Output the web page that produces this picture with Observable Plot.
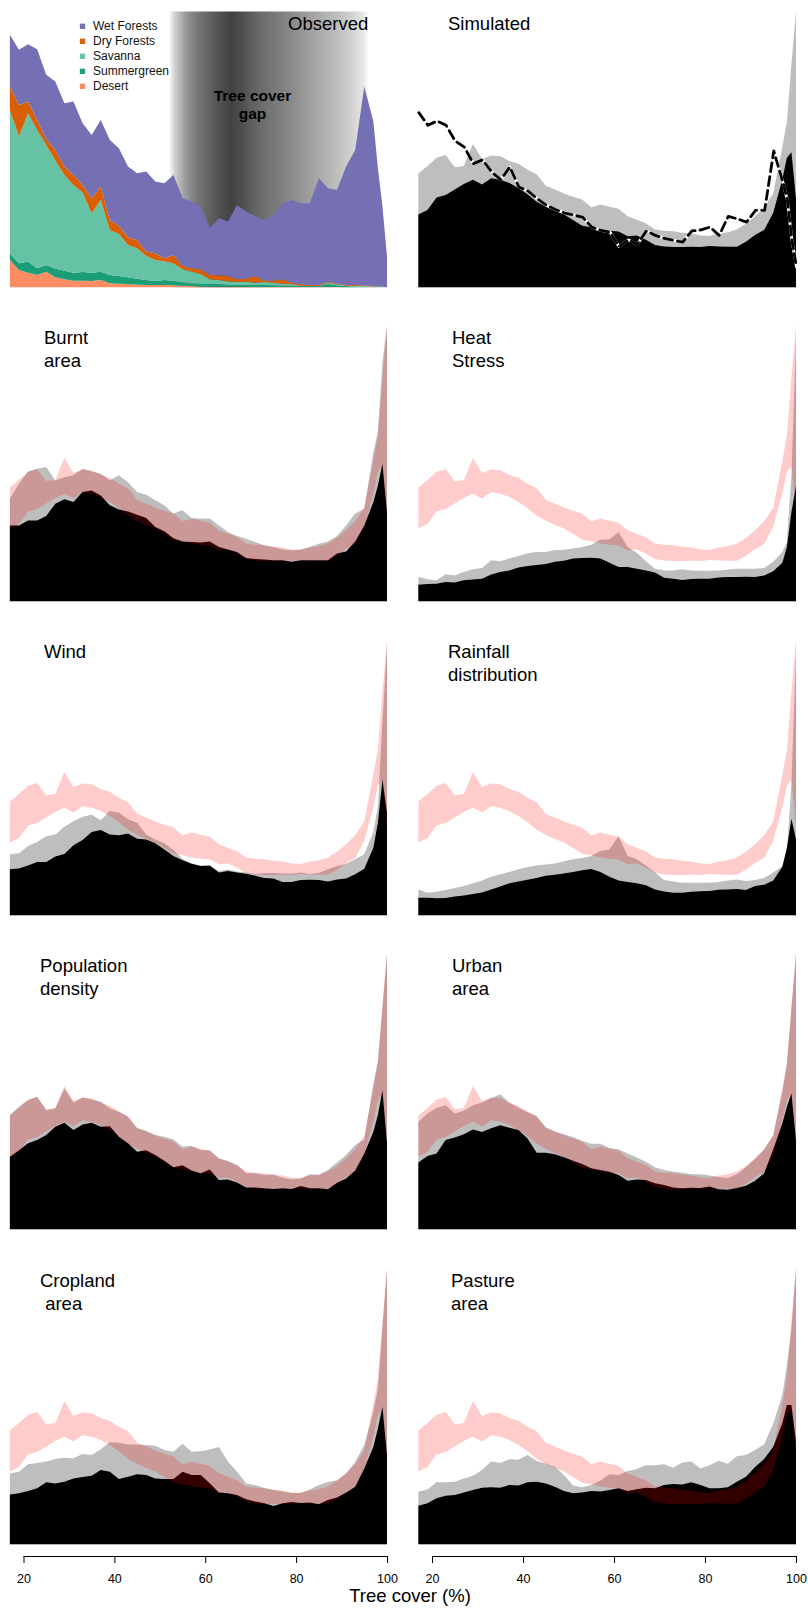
<!DOCTYPE html>
<html>
<head>
<meta charset="utf-8">
<script src="https://cdn.jsdelivr.net/npm/d3@7"></script>
<script src="https://cdn.jsdelivr.net/npm/@observablehq/plot@0.6"></script>
<style>
  body { margin: 0; background: #fff; }
  #fig { position: relative; width: 808px; height: 1608px; background: #fff;
         font-family: "Liberation Sans", Arial, Helvetica, sans-serif; }
  #fig svg { position: absolute; }
  #xlabel { position: absolute; left: 10px; width: 800px; text-align: center;
            font-size: 18.5px; line-height: 18.5px; top: 1587px; color: #000; }
</style>
</head>
<body>
<div id="fig"><div id="xlabel">Tree cover (%)</div></div>
<script>
// ---------------------------------------------------------------------------
// Tree-cover bins (%) shared by every panel
// ---------------------------------------------------------------------------
const treeCover = [
  17, 19, 21, 23, 25, 27, 29, 31, 33, 35, 37,
  39, 41, 43, 45, 47, 49, 51, 53, 55, 57, 59,
  61, 63, 65, 67, 69, 71, 73, 75, 77, 79, 81,
  83, 85, 87, 89, 91, 93, 95, 97, 98, 99, 100
];
const tickValues = [20, 40, 60, 80, 100];

// Observed frequency by biome (stacked)
const desert = [
  8.2, 5.2, 4.4, 3.7, 4.7, 3.0, 2.4, 2.0, 2.0, 1.9, 2.2,
  1.2, 1.1, 1.0, 0.8, 0.7, 0.7, 0.7, 0.6, 0.5, 0.4, 0.2,
  0.2, 0.2, 0.2, 0.2, 0.2, 0.1, 0.1, 0.1, 0.1, 0.1, 0.1,
  0.1, 0.1, 0.1, 0.1, 0, 0, 0, 0, 0, 0, 0
];
const summergreen = [
  2.0, 2.0, 3.3, 2.0, 2.0, 2.6, 2.6, 2.4, 2.6, 2.5, 2.5,
  2.5, 2.3, 2.0, 1.8, 1.5, 1.2, 1.5, 1.4, 1.0, 0.8, 0.8,
  0.8, 0.7, 0.5, 0.5, 0.5, 0.6, 0.6, 0.5, 0.4, 0.4, 0.3,
  0.3, 0.3, 0.9, 0.5, 0.4, 0.2, 0.1, 0.1, 0.1, 0, 0
];
const savanna = [
  43.0, 38.0, 44.5, 41.5, 36.0, 32.4, 28.7, 26.3, 23.8, 17.8, 21.5,
  13.5, 12.6, 9.7, 9.1, 7.2, 6.3, 5.5, 5.2, 3.9, 3.5, 3.0,
  1.4, 1.3, 1.1, 0.9, 1.0, 0.7, 0.9, 0.8, 0.6, 0.5, 0.1,
  0, 0.1, 0.4, 0.3, 0.1, 0.2, 0.2, 0.1, 0, 0.1, 0
];
const dryForests = [
  7.0, 9.5, 3.5, 3.0, 1.7, 3.2, 2.5, 3.0, 2.3, 4.5, 4.0,
  3.0, 2.4, 2.3, 2.5, 1.3, 2.0, 1.0, 2.5, 1.0, 1.0, 1.4,
  1.3, 1.4, 1.6, 0.8, 0.9, 2.0, 0.4, 0.6, 1.3, 0.4, 0.4,
  0.3, 0.2, 0.3, 0.2, 0.2, 0.3, 0.2, 0.2, 0.1, 0.1, 0
];
const wetForests = [
  15.5, 16.5, 17.2, 21.2, 19.3, 20.5, 19.0, 22.0, 18.5, 19.0, 20.0,
  24.0, 23.3, 21.2, 20.0, 24.0, 21.5, 22.5, 24.0, 20.3, 20.0, 18.8,
  14.0, 17.1, 16.3, 22.3, 20.1, 18.0, 18.2, 19.7, 22.8, 24.8, 24.3,
  24.5, 32.0, 28.0, 28.1, 35.5, 40.5, 59.7, 49.3, 35.5, 24.0, 9.2
];
const observedMax = 82.7;
const biomes = ["Wet Forests", "Dry Forests", "Savanna", "Summergreen", "Desert"];
const biomeColors = ["#7570b3", "#d95f02", "#66c2a5", "#1b9e77", "#fc8d62"];
const gapRange = [52, 96];

// Control simulation envelope (min / max) and observed distribution line
const controlMin = [
  26.4, 28.0, 32.6, 33.5, 35.5, 37.5, 39.0, 37.3, 39.5, 39.0, 37.8,
  36.0, 33.7, 31.0, 29.2, 27.7, 26.4, 24.4, 22.3, 21.8, 21.0, 20.5,
  20.2, 18.5, 18.8, 17.2, 15.3, 14.8, 14.6, 14.6, 14.7, 14.6, 15.0,
  14.8, 14.7, 14.7, 16.5, 19.0, 20.8, 27.0, 39.2, 47.0, 49.0, 32.0
];
const controlMax = [
  41.3, 44.0, 47.0, 48.0, 43.5, 44.0, 52.0, 46.5, 47.8, 47.5, 45.8,
  44.8, 42.6, 41.0, 36.8, 35.5, 34.0, 32.8, 31.8, 29.0, 30.0, 29.2,
  28.5, 25.8, 24.5, 23.2, 21.0, 20.5, 20.3, 19.8, 19.5, 18.8, 18.6,
  19.5, 20.0, 21.0, 23.0, 25.8, 29.0, 34.0, 51.0, 60.0, 81.0, 100
];
const observedLine = [
  63.5, 58.9, 60.5, 58.9, 53.2, 51.0, 45.0, 46.4, 42.0, 39.2, 43.8,
  36.5, 35.1, 32.3, 30.0, 28.4, 27.1, 26.4, 25.6, 22.0, 20.8, 20.2,
  15.0, 17.4, 15.7, 20.6, 19.0, 17.9, 17.2, 16.6, 20.6, 21.0, 22.0,
  19.0, 25.9, 25.0, 23.8, 28.1, 28.1, 49.6, 38.3, 31.7, 17.2, 7.5
];

// Experiments with one driver held fixed: upper (grey) and lower (black) envelopes
const burntHigh = [
  37.2, 42.6, 47.1, 48.1, 48.7, 43.8, 45.0, 45.7, 48.1, 47.1, 46.3,
  43.8, 45.7, 43.2, 39.6, 38.6, 36.6, 34.8, 31.8, 33.0, 30.2, 30.0,
  30.0, 27.5, 25.1, 23.7, 22.7, 21.5, 20.3, 19.7, 18.8, 18.5, 18.8,
  19.7, 20.9, 21.7, 23.7, 27.5, 31.8, 33.6, 54.1, 61.4, 86.7, 100
];
const burntLow = [
  27.5, 27.5, 29.3, 29.3, 30.9, 35.4, 37.0, 36.0, 39.6, 40.2, 38.4,
  34.8, 33.3, 32.6, 31.4, 30.2, 26.9, 25.4, 22.9, 21.7, 21.5, 21.3,
  21.7, 19.7, 18.8, 17.9, 15.7, 15.3, 15.2, 14.9, 14.9, 14.3, 14.9,
  14.9, 14.9, 14.9, 17.3, 18.1, 21.7, 27.5, 36.0, 42.0, 49.9, 32.4
];
const heatHigh = [
  8.8, 8.0, 7.6, 9.8, 9.4, 10.6, 11.6, 12.1, 14.9, 14.5, 15.5,
  16.4, 17.4, 17.9, 17.9, 18.6, 18.7, 19.1, 19.7, 20.5, 22.3, 22.5,
  25.0, 19.7, 17.6, 14.5, 11.8, 11.2, 11.2, 11.6, 11.2, 11.1, 11.1,
  11.2, 11.5, 11.8, 11.8, 11.8, 12.1, 14.3, 17.9, 21.5, 46.0, 95.0
];
const heatLow = [
  6.0, 6.3, 6.4, 7.0, 6.8, 7.6, 7.9, 8.2, 9.7, 10.6, 11.2,
  12.3, 12.8, 13.2, 13.5, 14.3, 14.7, 15.5, 15.7, 15.8, 15.5, 14.0,
  12.4, 12.4, 11.8, 11.2, 10.4, 8.5, 8.2, 7.7, 8.1, 8.2, 8.2,
  8.6, 8.8, 8.8, 8.9, 8.8, 9.4, 10.9, 14.0, 19.7, 32.4, 42.0
];
const windHigh = [
  22.1, 22.5, 25.1, 26.6, 28.7, 29.3, 32.1, 34.1, 35.7, 36.5, 34.5,
  37.8, 37.2, 34.8, 33.6, 29.3, 27.5, 26.1, 23.7, 20.5, 18.8, 18.1,
  17.9, 16.1, 16.6, 15.9, 15.5, 15.0, 15.3, 15.3, 15.2, 15.1, 15.5,
  15.0, 15.3, 16.7, 17.9, 18.7, 20.3, 22.1, 30.2, 39.6, 70.0, 98.0
];
const windLow = [
  16.7, 17.0, 18.1, 19.3, 19.3, 21.3, 22.2, 25.4, 27.3, 30.2, 30.9,
  29.3, 29.0, 29.7, 27.8, 27.5, 26.1, 23.9, 21.5, 20.0, 18.7, 17.9,
  18.1, 15.5, 16.1, 15.5, 15.1, 14.3, 13.5, 13.3, 12.1, 12.1, 12.8,
  12.9, 12.8, 12.3, 13.0, 13.3, 14.9, 16.9, 24.5, 33.6, 49.3, 37.2
];
const rainHigh = [
  9.4, 8.2, 8.5, 9.2, 9.9, 10.6, 11.6, 12.6, 14.0, 14.9, 15.7,
  16.7, 17.5, 18.1, 18.4, 18.8, 19.6, 20.3, 20.8, 21.5, 23.3, 23.9,
  28.7, 21.5, 20.3, 18.1, 15.5, 12.8, 12.3, 11.8, 11.8, 11.8, 11.8,
  12.1, 12.6, 13.0, 12.4, 12.8, 13.5, 15.5, 17.9, 22.7, 48.1, 95.0
];
const rainLow = [
  6.4, 6.4, 6.2, 6.3, 6.8, 7.2, 7.7, 8.3, 9.4, 10.4, 11.6,
  12.3, 12.9, 13.5, 14.3, 14.7, 15.2, 15.7, 16.3, 16.8, 15.7, 14.0,
  12.6, 12.1, 11.6, 10.9, 9.4, 8.6, 8.2, 8.2, 8.5, 8.7, 8.8,
  9.3, 9.4, 9.5, 9.2, 10.6, 11.1, 12.6, 17.6, 24.5, 35.0, 27.5
];
const popHigh = [
  41.4, 44.4, 46.9, 48.1, 43.2, 43.8, 51.0, 46.0, 47.8, 47.1, 46.3,
  43.8, 42.6, 40.8, 36.6, 35.7, 34.2, 33.6, 32.6, 30.0, 30.2, 28.7,
  28.7, 25.7, 24.9, 23.3, 20.3, 20.3, 19.7, 19.9, 18.7, 18.1, 18.4,
  20.0, 19.7, 21.5, 24.2, 26.9, 30.6, 32.6, 52.9, 61.4, 80.7, 100
];
const popLow = [
  26.3, 28.7, 31.2, 32.4, 34.2, 37.2, 38.6, 36.0, 38.0, 38.6, 37.2,
  37.4, 33.6, 31.2, 28.1, 28.7, 26.9, 24.9, 22.5, 23.2, 21.3, 20.3,
  21.7, 17.9, 18.1, 17.0, 15.2, 15.2, 14.9, 14.6, 14.9, 14.6, 15.7,
  14.9, 14.9, 14.5, 16.9, 18.4, 21.3, 27.5, 35.4, 41.4, 50.5, 31.2
];
const urbanHigh = [
  39.0, 42.0, 44.0, 45.0, 42.0, 43.0, 45.0, 46.0, 47.5, 49.0, 46.0,
  44.0, 42.5, 41.0, 37.0, 35.5, 34.5, 33.5, 32.0, 31.0, 31.0, 29.5,
  29.0, 27.5, 26.0, 24.5, 22.5, 21.5, 21.0, 20.5, 20.0, 20.0, 19.5,
  19.0, 18.5, 20.0, 22.5, 25.5, 29.0, 34.0, 50.0, 60.0, 80.0, 100
];
const urbanLow = [
  24.2, 26.6, 27.5, 32.4, 33.3, 34.5, 36.2, 35.3, 36.6, 37.7, 36.8,
  36.0, 32.9, 27.8, 27.8, 27.2, 26.1, 24.9, 23.7, 22.1, 21.5, 20.9,
  19.7, 17.6, 18.1, 17.9, 16.7, 16.1, 15.2, 14.9, 15.1, 15.0, 15.5,
  14.5, 14.3, 15.0, 15.8, 17.6, 20.3, 29.0, 38.4, 44.4, 49.3, 32.4
];
const cropHigh = [
  25.7, 26.3, 29.0, 29.5, 30.0, 30.9, 31.4, 31.2, 32.7, 32.4, 34.5,
  37.0, 36.8, 36.2, 36.2, 36.0, 35.7, 34.2, 33.6, 36.5, 33.6, 33.7,
  34.4, 35.3, 30.0, 26.3, 22.0, 21.5, 20.4, 19.7, 19.1, 18.6, 18.7,
  19.9, 21.5, 22.6, 23.2, 25.7, 29.8, 36.0, 48.1, 56.5, 78.3, 100
];
const cropLow = [
  18.1, 18.5, 19.3, 20.3, 22.5, 22.0, 22.7, 23.9, 24.4, 24.9, 26.9,
  26.3, 23.7, 24.5, 25.4, 25.1, 23.9, 23.7, 23.7, 26.3, 25.1, 25.1,
  22.1, 18.8, 18.5, 17.9, 16.3, 15.5, 14.9, 13.9, 14.9, 15.3, 15.0,
  15.2, 14.5, 16.1, 17.0, 18.8, 20.9, 27.5, 35.4, 42.0, 49.9, 32.4
];
const pastureHigh = [
  19.1, 19.9, 22.5, 22.5, 22.7, 23.9, 24.9, 26.9, 30.0, 29.5, 30.8,
  30.7, 32.4, 30.2, 29.3, 28.1, 25.1, 21.3, 20.7, 21.5, 23.1, 25.4,
  25.1, 26.6, 27.3, 28.7, 28.7, 29.0, 27.8, 29.7, 30.0, 27.5, 28.7,
  30.3, 29.2, 31.9, 32.4, 34.2, 36.2, 43.8, 54.1, 65.0, 78.3, 100
];
const pastureLow = [
  14.0, 14.9, 16.7, 17.6, 17.9, 18.8, 19.7, 20.5, 20.7, 20.5, 21.5,
  21.3, 22.5, 22.7, 22.0, 20.9, 19.3, 18.5, 18.8, 19.3, 19.1, 19.7,
  20.3, 19.3, 20.0, 20.5, 20.3, 21.5, 21.9, 21.7, 22.5, 21.5, 20.3,
  20.3, 20.7, 22.7, 24.5, 28.0, 30.9, 35.4, 44.0, 50.5, 50.5, 37.2
];

// ---------------------------------------------------------------------------
// Page layout
// ---------------------------------------------------------------------------
const FONT = '"Liberation Sans", Arial, Helvetica, sans-serif';
const fig = document.getElementById("fig");
const columns = [
  {left: 0, marginLeft: 23.5, marginRight: 17},
  {left: 404, marginLeft: 28, marginRight: 12}
];
const rowTops = [0, 314, 628, 942, 1257];
const PANEL_H = 314, M_TOP = 11.5, M_BOTTOM = 26.7;
const GREY = "#bebebe";
const LABEL_SIZE = 18.5;

function place(svg, left, top) {
  svg.style.position = "absolute";
  svg.style.left = left + "px";
  svg.style.top = top + "px";
  fig.appendChild(svg);
}

// Text pinned to the top-left corner of the plotting frame
function frameText(text, {dx, dy = 1.4, size = LABEL_SIZE, weight = "normal", anchor = "start",
                          lineAnchor = "top", lineHeight = 23 / LABEL_SIZE}) {
  return Plot.text([text], {
    text: d => d, frameAnchor: "top-left", dx, dy,
    fontSize: size, fontWeight: weight, textAnchor: anchor,
    lineAnchor, lineHeight, fill: "black"
  });
}

function makePanel(col, yMax, marks, extra = {}) {
  return Plot.plot({
    width: 404, height: PANEL_H,
    marginTop: M_TOP, marginBottom: M_BOTTOM,
    marginLeft: col.marginLeft, marginRight: col.marginRight,
    x: {domain: [20, 100], axis: null},
    y: {domain: [0, yMax], axis: null},
    style: {fontFamily: FONT, background: "transparent", overflow: "visible"},
    ...extra,
    marks
  });
}

// ---------------------------------------------------------------------------
// Observed panel: stacked biome composition behind a shaded "gap" band
// ---------------------------------------------------------------------------
const biomeSeries = [
  {name: "Desert", values: desert},
  {name: "Summergreen", values: summergreen},
  {name: "Savanna", values: savanna},
  {name: "Dry Forests", values: dryForests},
  {name: "Wet Forests", values: wetForests}
];
const observedLong = biomeSeries.flatMap(({name, values}) =>
  treeCover.map((t, i) => ({t, biome: name, value: values[i]})));

const legendMarks = biomes.flatMap((name, i) => [
  Plot.dot([name], {frameAnchor: "top-left", dx: 58.5, dy: 14.3 + 15 * i,
                    symbol: "square", r: 3, fill: biomeColors[i]}),
  Plot.text([name], {frameAnchor: "top-left", dx: 69, dy: 14.3 + 15 * i, text: d => d,
                     fontSize: 12, textAnchor: "start", lineAnchor: "middle", fill: "#111"})
]);

const observedSvg = makePanel(columns[0], observedMax, [
  Plot.rect([gapRange], {x1: d => d[0], x2: d => d[1], y1: () => 0, y2: () => observedMax,
                         fill: "url(#gapShade)"}),
  Plot.areaY(observedLong, {x: "t", y: "value", fill: "biome",
                            order: biomeSeries.map(d => d.name), curve: "linear"}),
  ...legendMarks,
  frameText("Tree cover\ngap", {dx: 228.5, dy: 76.5, size: 15.5, weight: "bold",
                                anchor: "middle", lineHeight: 1.16}),
  frameText("Observed", {dx: 264})
], {color: {domain: biomes, range: biomeColors}});

const gapStops = [
  [0, "#ffffff"], [0.03, "#cfcfcf"], [0.08, "#9c9c9c"], [0.14, "#787878"],
  [0.24, "#555555"], [0.31, "#424242"], [0.36, "#4c4c4c"], [0.42, "#616161"],
  [0.49, "#717171"], [0.57, "#818181"], [0.65, "#929292"], [0.73, "#a5a5a5"],
  [0.82, "#b9b9b9"], [0.9, "#cdcdcd"], [0.97, "#e6e6e6"], [1, "#ffffff"]
];
const grad = d3.select(observedSvg).insert("defs", ":first-child")
  .append("linearGradient").attr("id", "gapShade")
  .attr("x1", 0).attr("x2", 1).attr("y1", 0).attr("y2", 0);
gapStops.forEach(([o, c]) => grad.append("stop").attr("offset", o).attr("stop-color", c));
place(observedSvg, columns[0].left, rowTops[0]);

// ---------------------------------------------------------------------------
// Simulated panel: control envelope with the observed distribution dashed
// ---------------------------------------------------------------------------
const controlRows = treeCover.map((t, i) => ({
  t, lo: controlMin[i], hi: controlMax[i], obs: observedLine[i]
}));
place(makePanel(columns[1], 100, [
  Plot.areaY(controlRows, {x: "t", y: "hi", fill: GREY}),
  Plot.areaY(controlRows, {x: "t", y: "lo", fill: "black"}),
  Plot.line(controlRows, {x: "t", y: "obs", stroke: "white", strokeWidth: 2.8}),
  Plot.line(controlRows, {x: "t", y: "obs", stroke: "black", strokeWidth: 2.8,
                          strokeDasharray: "9,5"}),
  frameText("Simulated", {dx: 15.5})
]), columns[1].left, rowTops[0]);

// ---------------------------------------------------------------------------
// Driver experiments, each overlaid with the control envelope in red
// ---------------------------------------------------------------------------
const experiments = [
  {label: "Burnt\narea", high: burntHigh, low: burntLow, row: 1, col: 0, dx: 20},
  {label: "Heat\nStress", high: heatHigh, low: heatLow, row: 1, col: 1, dx: 19.5},
  {label: "Wind", high: windHigh, low: windLow, row: 2, col: 0, dx: 20},
  {label: "Rainfall\ndistribution", high: rainHigh, low: rainLow, row: 2, col: 1, dx: 15.5},
  {label: "Population\ndensity", high: popHigh, low: popLow, row: 3, col: 0, dx: 16},
  {label: "Urban\narea", high: urbanHigh, low: urbanLow, row: 3, col: 1, dx: 19.5},
  {label: "Cropland\n\u00a0area", high: cropHigh, low: cropLow, row: 4, col: 0, dx: 16},
  {label: "Pasture\narea", high: pastureHigh, low: pastureLow, row: 4, col: 1, dx: 18.5}
];

for (const e of experiments) {
  const rows = treeCover.map((t, i) => ({
    t, high: e.high[i], low: e.low[i], lo: controlMin[i], hi: controlMax[i]
  }));
  const col = columns[e.col];
  place(makePanel(col, 100, [
    Plot.areaY(rows, {x: "t", y: "high", fill: GREY}),
    Plot.areaY(rows, {x: "t", y: "low", fill: "black"}),
    Plot.areaY(rows, {x: "t", y1: "lo", y2: "hi", fill: "red", fillOpacity: 0.2}),
    frameText(e.label, {dx: e.dx})
  ]), col.left, rowTops[e.row]);
}

// ---------------------------------------------------------------------------
// Shared tree-cover axes under the bottom row
// ---------------------------------------------------------------------------
for (const col of columns) {
  place(Plot.plot({
    width: 404, height: 44, marginTop: 7, marginBottom: 37,
    marginLeft: col.marginLeft, marginRight: col.marginRight,
    x: {domain: [20, 100]},
    y: {domain: [0, 1], axis: null},
    style: {fontFamily: FONT, background: "transparent", overflow: "visible"},
    marks: [
      Plot.ruleY([0], {x1: 20, x2: 100, stroke: "black", strokeWidth: 1}),
      Plot.axisX(tickValues, {anchor: "bottom", tickSize: 7, tickPadding: 11,
                              fontSize: 12.5, stroke: "black", fill: "black"})
    ]
  }), col.left, 1549);
}
</script>
</body>
</html>
